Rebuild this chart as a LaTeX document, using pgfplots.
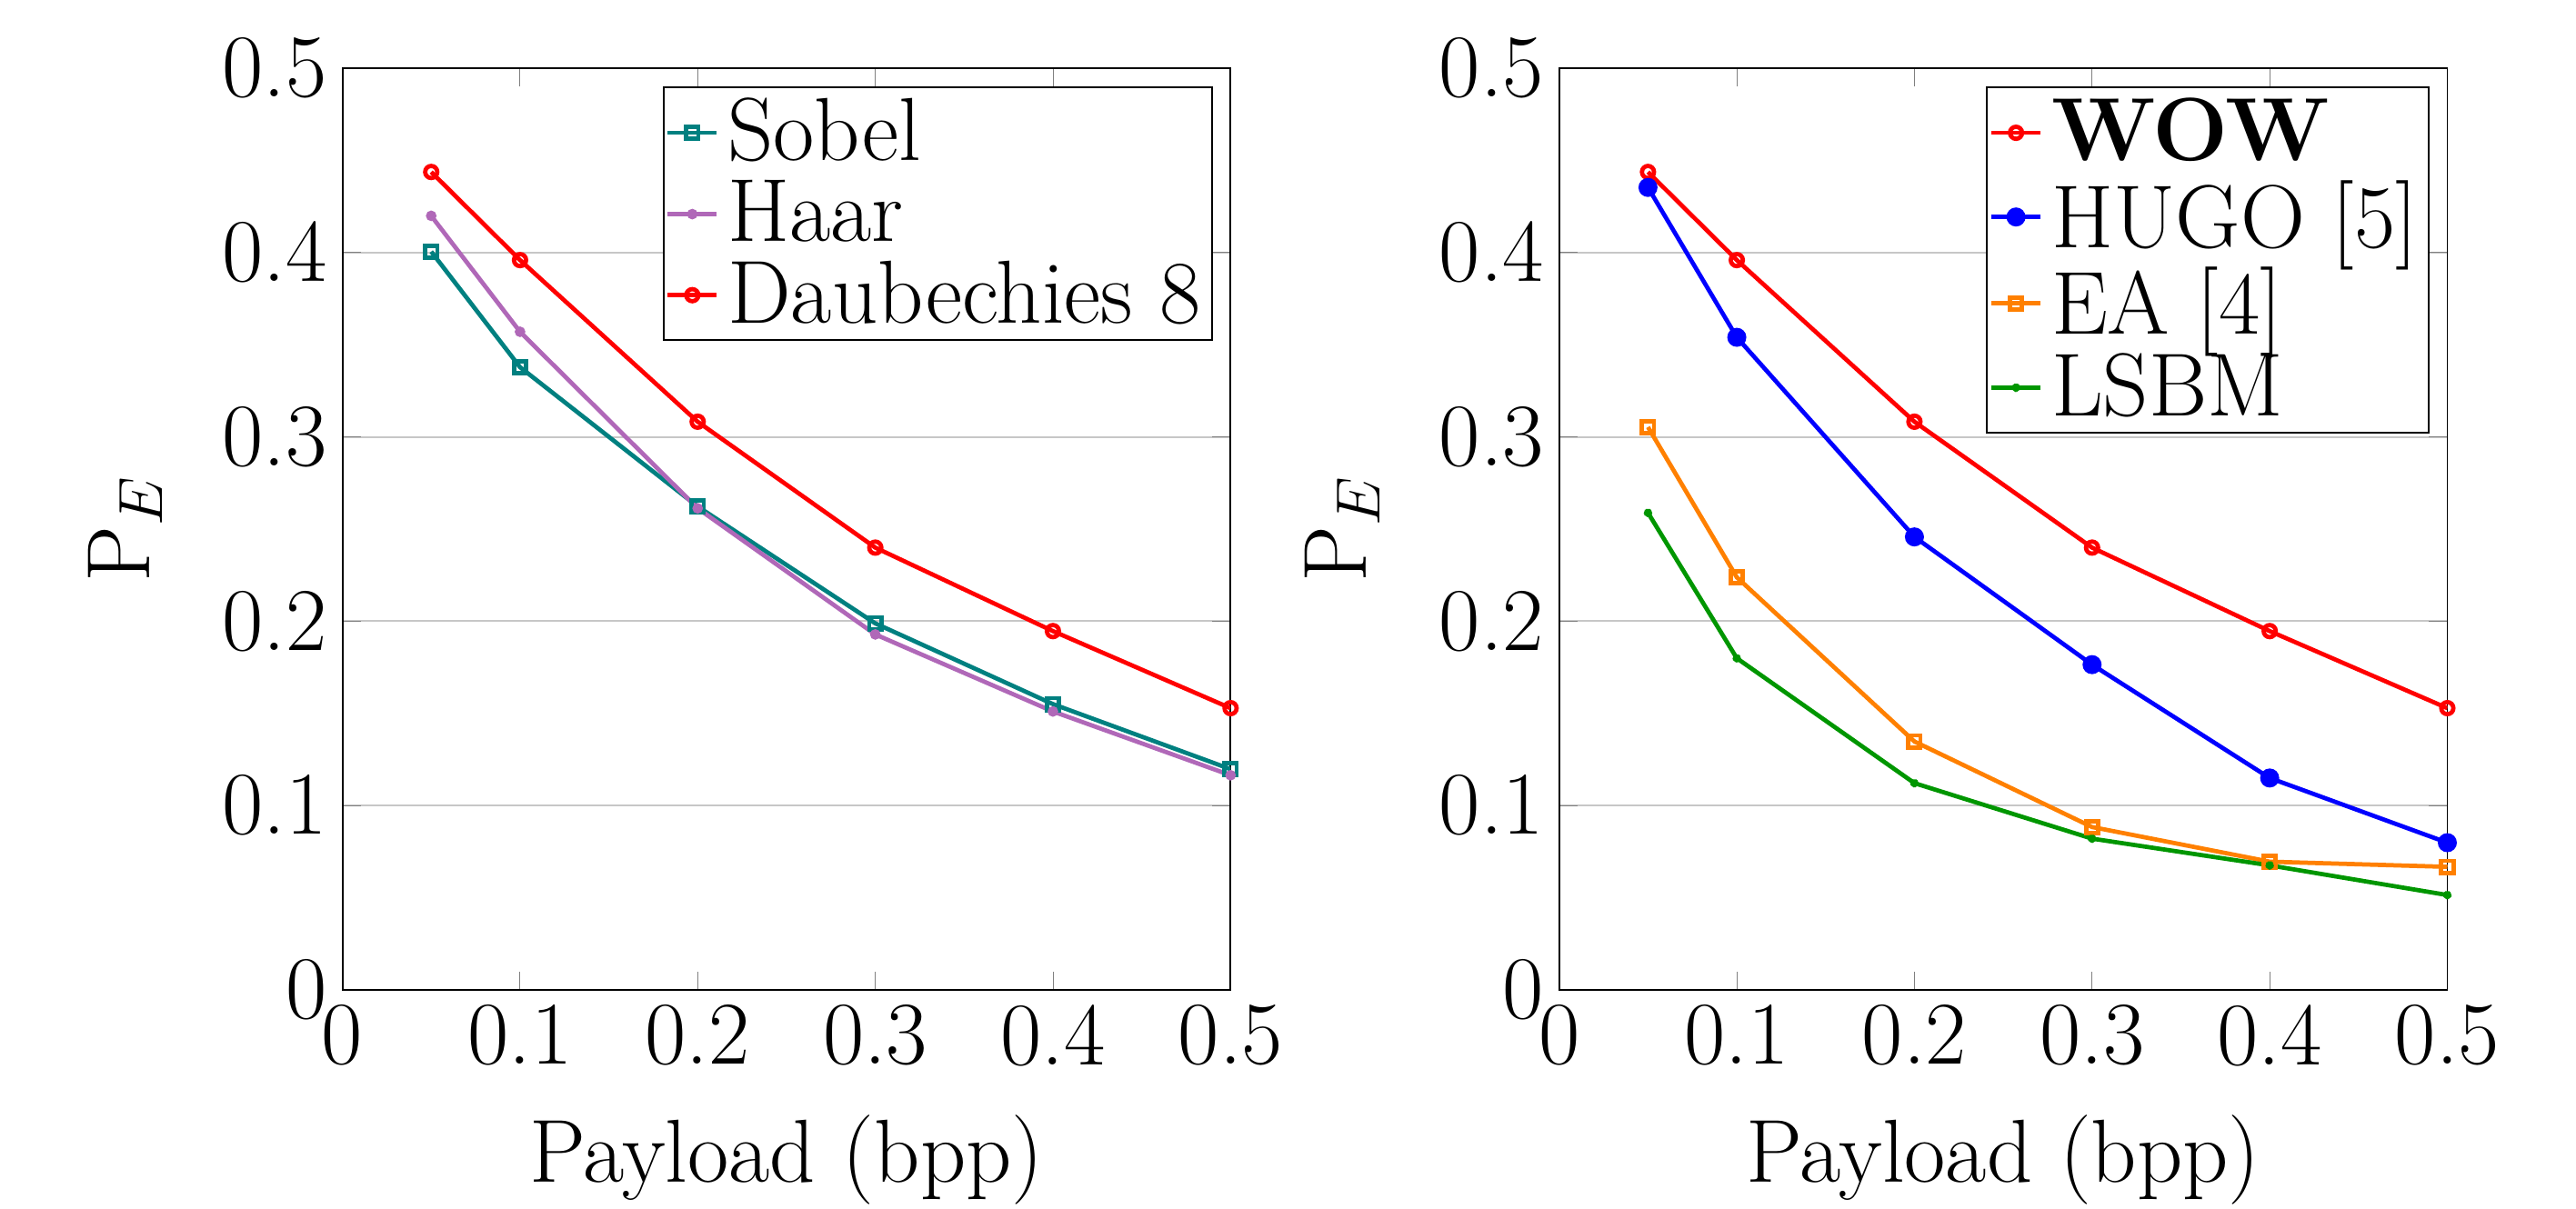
\documentclass[border=0pt]{standalone}
\usepackage{pgfplots}
\pgfplotsset{compat=1.18}
\definecolor{haarc}{RGB}{176,104,184}
\definecolor{lsbmc}{RGB}{0,150,0}
\definecolor{eac}{RGB}{255,128,0}
\pgfplotsset{
  myax/.style={
    scale only axis, width=205.7pt, height=213.5pt,
    xmin=0, xmax=0.5, ymin=0, ymax=0.5,
    xtick={0,0.1,0.2,0.3,0.4,0.5},
    ytick={0,0.1,0.2,0.3,0.4,0.5},
    xticklabels={0,0.1,0.2,0.3,0.4,0.5},
    yticklabels={0,0.1,0.2,0.3,0.4,0.5},
    ymajorgrids, major grid style={black!22, thin},
    xlabel={Payload (bpp)}, ylabel={$\mathrm{P}_E$},
    xlabel shift=4.5pt, ylabel shift=7pt,
    legend cell align=left,
    legend style={font=\huge, inner sep=0.5pt, row sep=-1pt},
    legend image code/.code={\draw[mark repeat=2,mark phase=2] plot coordinates {(0cm,0cm)(0.2cm,0cm)(0.4cm,0cm)};},
    every axis plot/.append style={line width=1pt},
  }
}
\begin{document}
\begin{tikzpicture}[font=\huge]
\begin{axis}[myax, at={(0pt,0pt)}]
\addplot[teal, mark=square, mark size=1.4pt, mark options={solid}] coordinates {(0.05,0.4005)(0.1,0.3378)(0.2,0.2622)(0.3,0.1988)(0.4,0.155)(0.5,0.1197)};
\addlegendentry{Sobel}
\addplot[haarc, mark=*, mark size=0.7pt] coordinates {(0.05,0.4199)(0.1,0.357)(0.2,0.2612)(0.3,0.1928)(0.4,0.151)(0.5,0.1164)};
\addlegendentry{Haar}
\addplot[red, mark=o, mark size=1.4pt] coordinates {(0.05,0.4437)(0.1,0.3959)(0.2,0.3082)(0.3,0.2399)(0.4,0.1946)(0.5,0.1528)};
\addlegendentry{Daubechies 8}
\end{axis}
\begin{axis}[myax, at={(281.8pt,0pt)}]
\addplot[red, mark=o, mark size=1.4pt] coordinates {(0.05,0.4437)(0.1,0.3959)(0.2,0.3082)(0.3,0.2399)(0.4,0.1946)(0.5,0.1528)};
\addlegendentry{\textbf{WOW}}
\addplot[blue, mark=*, mark size=1.7pt] coordinates {(0.05,0.4353)(0.1,0.354)(0.2,0.2457)(0.3,0.1764)(0.4,0.1149)(0.5,0.0798)};
\addlegendentry{HUGO [5]}
\addplot[eac, mark=square, mark size=1.4pt] coordinates {(0.05,0.3053)(0.1,0.2238)(0.2,0.1347)(0.3,0.0883)(0.4,0.0695)(0.5,0.0667)};
\addlegendentry{EA [4]}
\addplot[lsbmc, mark=star, mark size=0.9pt] coordinates {(0.05,0.2588)(0.1,0.1799)(0.2,0.1121)(0.3,0.082)(0.4,0.0675)(0.5,0.0514)};
\addlegendentry{LSBM}
\end{axis}
\pgfresetboundingbox
\path[use as bounding box] (-79.3pt,-50.6pt) rectangle (517.3pt,229.3pt);
\end{tikzpicture}
\end{document}
